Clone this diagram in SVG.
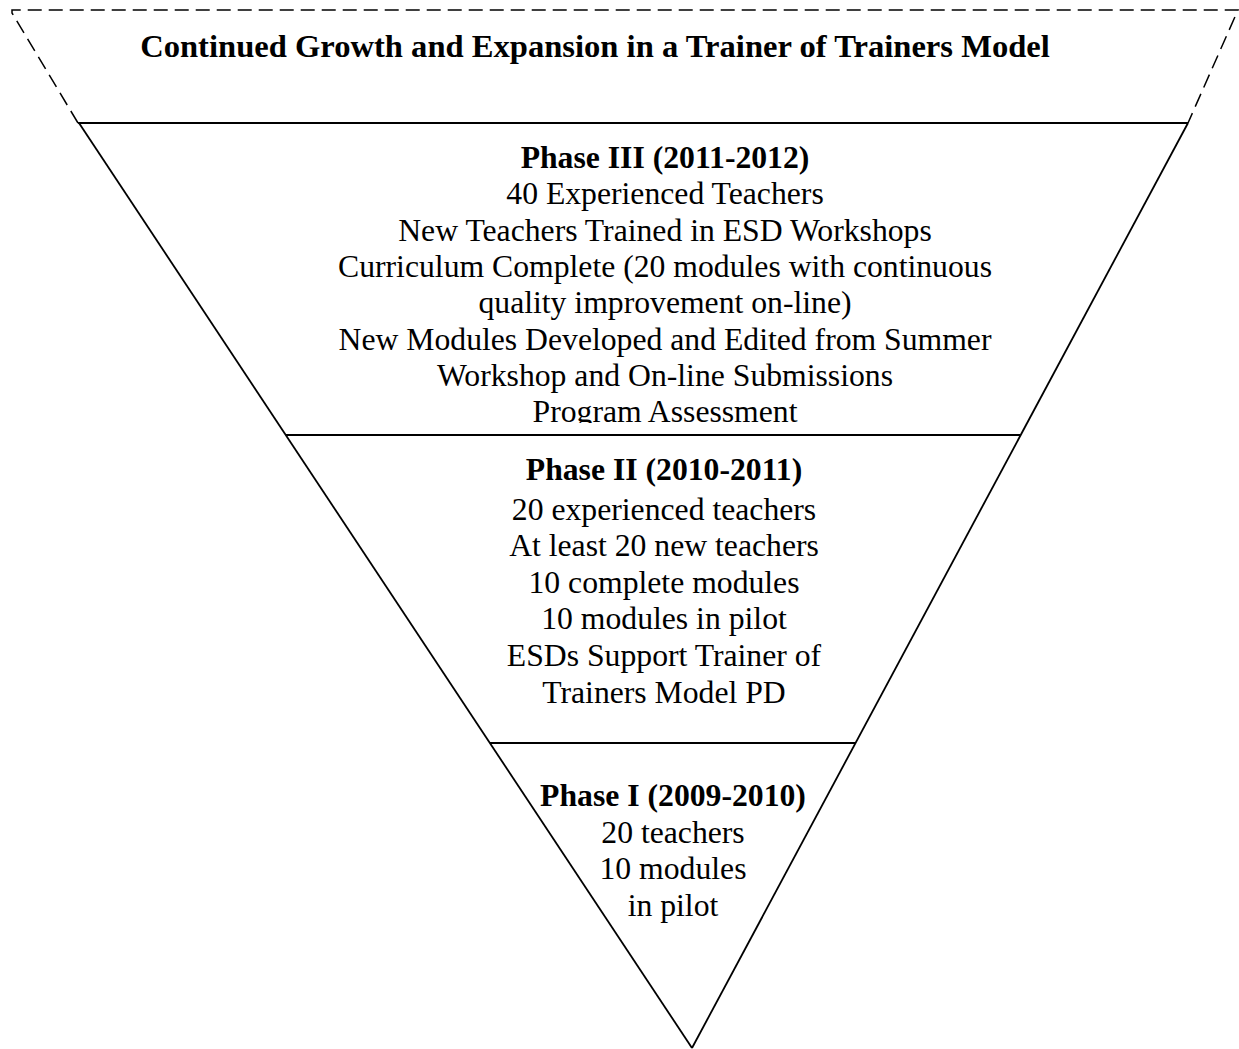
<svg xmlns="http://www.w3.org/2000/svg" width="1239" height="1049" viewBox="0 0 1239 1049">
  <style>
    .solid { stroke: #000; stroke-width: 1.8; fill: none; }
    .dash { stroke: #000; stroke-width: 1.5; fill: none; stroke-dasharray: 14 7; }
    text { font-family: "Liberation Serif", "Times New Roman", serif; font-size: 31.7px; fill: #000; text-anchor: middle; }
    .b { font-weight: bold; }
    .t { font-size: 32.6px; }
  </style>
  <defs>
    <clipPath id="clip3">
      <rect x="0" y="124" width="1239" height="299"/>
    </clipPath>
  </defs>
  <rect width="1239" height="1049" fill="#fff"/>

  <g id="outline">
    <polyline class="dash" points="78,123 12,13 12,10 1238,10 1188,123"/>
    <line class="solid" x1="78" y1="123" x2="1188" y2="123"/>
    <line class="solid" x1="79" y1="123" x2="692" y2="1048"/>
    <line class="solid" x1="1188" y1="123" x2="692" y2="1048"/>
    <line class="solid" x1="286" y1="435" x2="1020" y2="435"/>
    <line class="solid" x1="490" y1="743" x2="855" y2="743"/>
  </g>

  <g id="title">
    <text class="b t" x="595" y="57">Continued Growth and Expansion in a Trainer of Trainers Model</text>
  </g>

  <g id="phase3" clip-path="url(#clip3)">
    <text class="b" x="665" y="168">Phase III (2011-2012)</text>
    <text x="665" y="204.3">40 Experienced Teachers</text>
    <text x="665" y="240.6">New Teachers Trained in ESD Workshops</text>
    <text x="665" y="276.9">Curriculum Complete (20 modules with continuous</text>
    <text x="665" y="313.2">quality improvement on-line)</text>
    <text x="665" y="349.5">New Modules Developed and Edited from Summer</text>
    <text x="665" y="385.8">Workshop and On-line Submissions</text>
    <text x="665" y="422.1">Program Assessment</text>
  </g>

  <g id="phase2">
    <text class="b" x="664" y="480">Phase II (2010-2011)</text>
    <text x="664" y="519.6">20 experienced teachers</text>
    <text x="664" y="556.2">At least 20 new teachers</text>
    <text x="664" y="592.8">10 complete modules</text>
    <text x="664" y="629.4">10 modules in pilot</text>
    <text x="664" y="666">ESDs Support Trainer of</text>
    <text x="664" y="702.6">Trainers Model PD</text>
  </g>

  <g id="phase1">
    <text class="b" x="673" y="806">Phase I (2009-2010)</text>
    <text x="673" y="842.5">20 teachers</text>
    <text x="673" y="879">10 modules</text>
    <text x="673" y="915.5">in pilot</text>
  </g>
</svg>
